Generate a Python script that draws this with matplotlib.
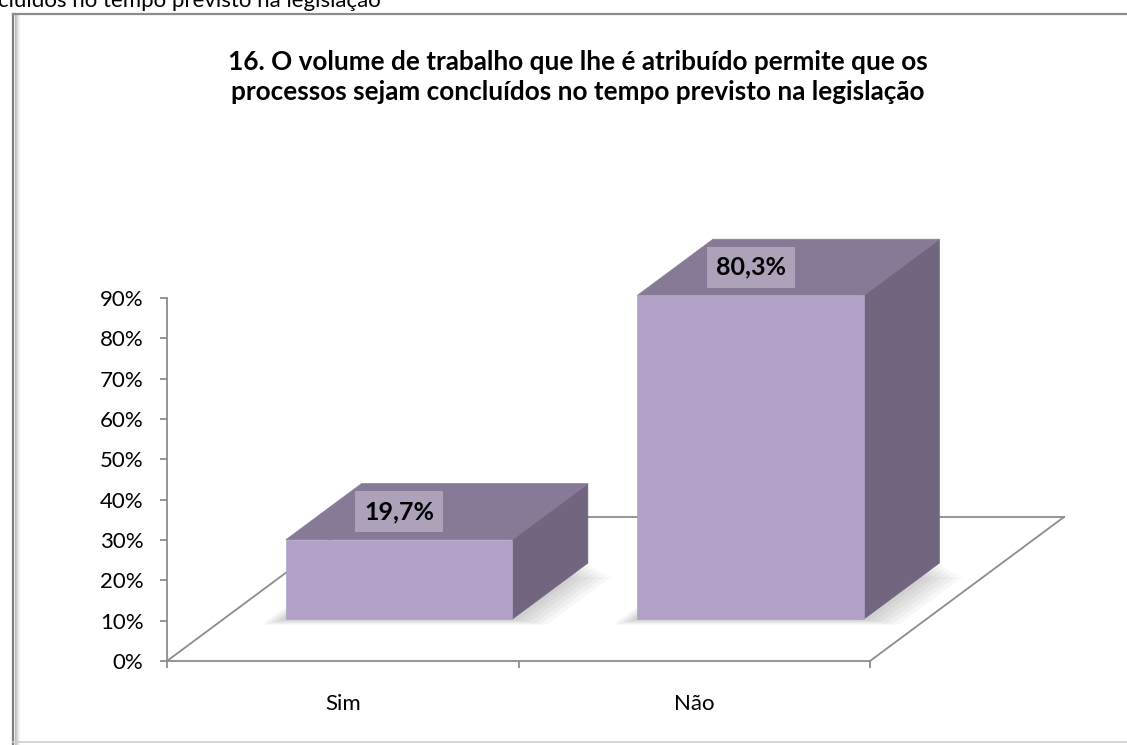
import matplotlib
matplotlib.use('Agg')
import matplotlib.pyplot as plt
from matplotlib.patches import Polygon
from matplotlib.lines import Line2D

# ---------------- data ----------------
categories = ['Sim', 'Não']
values = [19.7, 80.3]
value_labels = ['19,7%', '80,3%']
yticks = [0, 10, 20, 30, 40, 50, 60, 70, 80, 90]
ytick_labels = [f'{t}%' for t in yticks]
title = ('16. O volume de trabalho que lhe é atribuído permite que os\n'
         'processos sejam concluídos no tempo previsto na legislação')
top_text = 'cluídos no tempo previsto na legislação'

# ---------------- layout ----------------
W, H = 1127, 745
FONT = 'Lato'
fig = plt.figure(figsize=(W / 100, H / 100), dpi=100)

X0, Y0 = 167, 661          # pixel position of the axes origin (from top-left)
PX_X, PX_Y = 351.5, 4.033  # pixels per category unit / per percent
TOP = 200
ax = fig.add_axes([X0 / W, (H - Y0) / H, (W - X0) / W, (Y0 - TOP) / H])
ax.set_xlim(0, (W - X0) / PX_X)
ax.set_ylim(0, (Y0 - TOP) / PX_Y)
ax.patch.set_alpha(0)

DX, DY = 194 / PX_X, 144 / PX_Y   # full floor depth offset in data units


def P(x, d, v):
    return (x + d * DX, v + d * DY)


grey = '#8c8c8c'
n = len(categories)

# floor outline
for a, b in [((0, 0, 0), (0, 1, 0)), ((0, 1, 0), (n, 1, 0)), ((n, 0, 0), (n, 1, 0))]:
    pa, pb = P(*a), P(*b)
    ax.add_line(Line2D([pa[0], pb[0]], [pa[1], pb[1]], color=grey, lw=1.3,
                       zorder=1, clip_on=False))

# bars
bw, d0, bd = 0.644, 0.29, 0.39
d1 = d0 + bd
front_c, top_c, side_c = '#B1A1C7', '#877A96', '#72657F'
for i, v in enumerate(values):
    c = i + 0.5
    xl, xr = c - bw / 2, c + bw / 2
    # soft shadow on the floor
    for k in range(6):
        s = 0.008 * (k + 1)
        shadow = [P(xl - s, d0 - s * 0.8, 0), P(xr + s * 2.5, d0 - s * 0.8, 0),
                  P(xr + s * 2.5, d1 - s * 2, 0), P(xl - s, d1 - s * 2, 0)]
        ax.add_patch(Polygon(shadow, closed=True, facecolor='black', edgecolor='none',
                             alpha=0.03, zorder=2, clip_on=False))
    front = [P(xl, d0, 0), P(xr, d0, 0), P(xr, d0, v), P(xl, d0, v)]
    top = [P(xl, d0, v), P(xr, d0, v), P(xr, d1, v), P(xl, d1, v)]
    side = [P(xr, d0, 0), P(xr, d1, 0), P(xr, d1, v), P(xr, d0, v)]
    for poly, col in [(side, side_c), (top, top_c), (front, front_c)]:
        ax.add_patch(Polygon(poly, closed=True, facecolor=col, edgecolor=col,
                             lw=0.5, zorder=3, clip_on=False))
    lx, _ = P(c, d0, v)
    ly = v + (d0 + bd / 2) * DY
    ax.text(lx, ly, value_labels[i], ha='center', va='center', fontsize=18,
            fontweight='bold', family=FONT, color='black', zorder=5,
            bbox=dict(boxstyle='square,pad=0.36', facecolor='#ADA2BA',
                      edgecolor='none'))

# axes styling
for s in ['top', 'right']:
    ax.spines[s].set_visible(False)
ax.spines['left'].set_bounds(0, yticks[-1])
ax.spines['bottom'].set_bounds(0, n)
for s in ['left', 'bottom']:
    ax.spines[s].set_color(grey)
    ax.spines[s].set_linewidth(1.3)
ax.set_yticks(yticks)
ax.set_yticklabels(ytick_labels)
ax.set_xticks(range(n + 1))
ax.set_xticklabels([''] * (n + 1))
ax.set_xticks([i + 0.5 for i in range(n)], minor=True)
ax.set_xticklabels(categories, minor=True)
ax.tick_params(axis='y', length=5, width=1.3, color=grey, pad=12,
               labelsize=16, labelcolor='black')
ax.tick_params(axis='x', which='major', length=5, width=1.3, color=grey)
ax.tick_params(axis='x', which='minor', length=0, pad=24, labelsize=16,
               labelcolor='black')
for lab in ax.get_yticklabels() + ax.get_xticklabels(minor=True):
    lab.set_family(FONT)

# title
fig.text(578 / W, 1 - 77 / H, title, ha='center', va='center', fontsize=18.8,
         fontweight='bold', family=FONT, linespacing=1.27)

# cut-off text at the very top
fig.text(-2 / W, 1 - 7 / H, top_text, ha='left', va='baseline', fontsize=16,
         family=FONT, color='black')

# chart frame
fig.add_artist(Line2D([13 / W, 13 / W], [0, 1 - 14 / H], transform=fig.transFigure,
                      color='#7f7f7f', lw=1.6))
for k, a in enumerate([0.25, 0.18, 0.12, 0.07, 0.04]):
    xx = (15 + k) / W
    fig.add_artist(Line2D([xx, xx], [0, 1 - 15 / H], transform=fig.transFigure,
                          color='black', alpha=a, lw=0.8))
fig.add_artist(Line2D([13 / W, 1], [1 - 14 / H, 1 - 14 / H], transform=fig.transFigure,
                      color='#8c8c8c', lw=1.6))
fig.add_artist(Line2D([13 / W, 1], [1 - 742 / H, 1 - 742 / H], transform=fig.transFigure,
                      color='#d0d0d0', lw=1.2))

fig.savefig('out.png', dpi=100)
